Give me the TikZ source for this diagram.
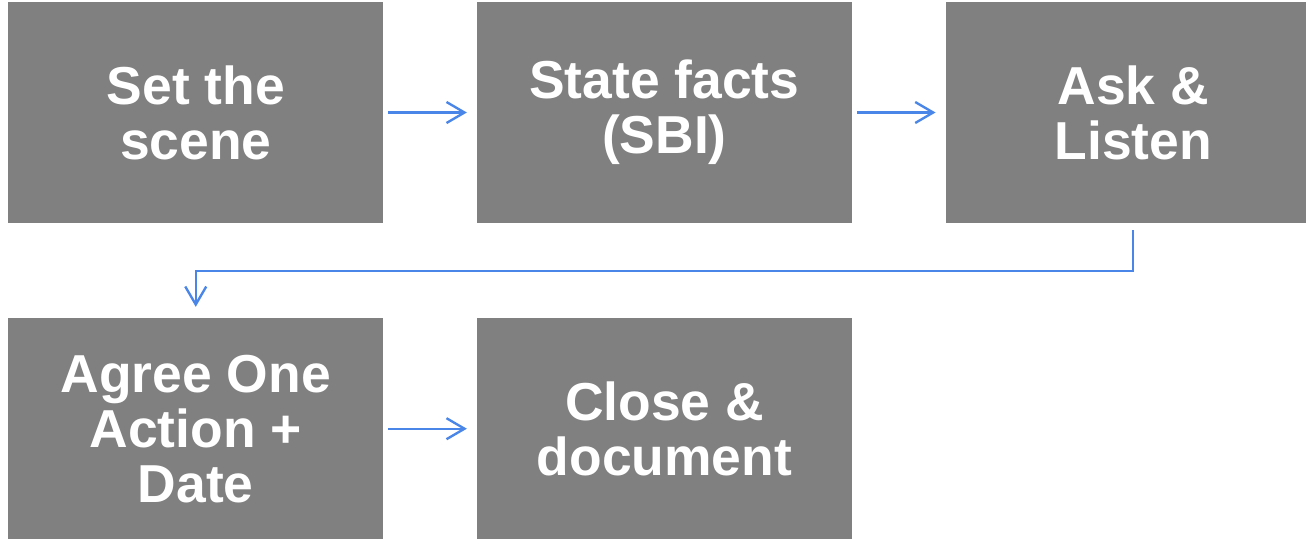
\documentclass[tikz,border=0pt]{standalone}
\usepackage{fontspec}
\setmainfont{Liberation Sans}
\usetikzlibrary{positioning,arrows.meta}
\definecolor{boxgray}{HTML}{808080}
\definecolor{flowblue}{HTML}{4A86E8}

\begin{document}
\begin{tikzpicture}[
		stepbox/.style = {fill = boxgray, text = white, minimum width = 7.49cm, minimum height = 4.42cm, inner sep = 0pt,
			align = center, font = \fontsize{30.4}{31.3}\selectfont\bfseries},
		flow/.style = {draw = flowblue, line width = 1.35pt, -{Straight Barb[length = 3.6mm, width = 4.2mm, line width = 1.35pt]}}
	]
		\useasboundingbox (0,0) rectangle (26.12,-10.82);
		\node[stepbox] (scene) at (3.915,-2.25) {Set the\\scene};
		\node[stepbox, right = 1.87cm of scene] (facts) {State facts\\(SBI)};
		\node[stepbox, right = 1.87cm of facts] (ask) {Ask \&\\Listen};
		\node[stepbox, below = 1.89cm of scene] (agree) {Agree One\\Action +\\Date};
		\node[stepbox, right = 1.87cm of agree] (close) {Close \&\\document};
		\draw[flow, shorten <= 0.1cm, shorten >= 0.2cm] (scene) -- (facts);
		\draw[flow, shorten <= 0.1cm, shorten >= 0.2cm] (facts) -- (ask);
		\draw[flow, shorten <= 0.1cm, shorten >= 0.2cm] (agree) -- (close);
		\coordinate (turn) at (0,-5.42);
		\draw[flow, shorten <= 0.14cm, shorten >= 0.22cm] (ask.south) -- (ask.south |- turn) -- (agree.north |- turn) -- (agree.north);
	\end{tikzpicture}
\end{document}
